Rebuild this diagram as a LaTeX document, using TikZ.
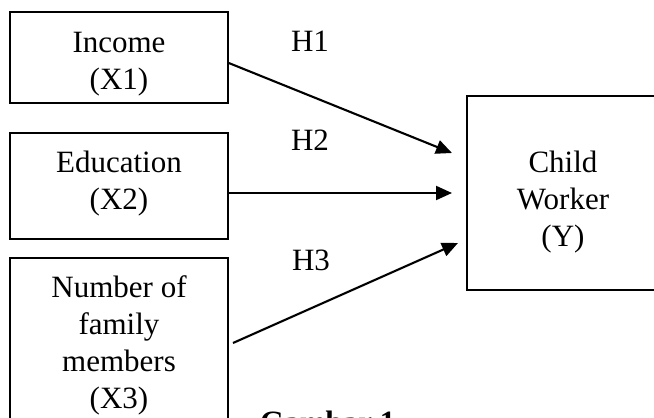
\documentclass[tikz,border=0pt]{standalone}
\usepackage{fontspec}
\setmainfont{Liberation Serif}
\usetikzlibrary{arrows.meta}
\begin{document}
\begin{tikzpicture}[x=1pt,y=-1pt,
  box/.style={draw,line width=1.6pt,rectangle,inner sep=0pt},
  txt/.style={inner sep=0pt,align=center,font=\fontsize{31}{37}\selectfont},
  hlab/.style={inner sep=0pt,font=\fontsize{31}{37}\selectfont},
  arr/.style={line width=2.1pt,-{Triangle[length=16pt,width=14pt]}}]
\useasboundingbox (0,0) rectangle (654,418);
\clip (0,0) rectangle (654,418);
% boxes
\node[box,minimum width=218pt,minimum height=91pt] (b1) at (119,57.5) {};
\node[box,minimum width=218pt,minimum height=106pt] (b2) at (119,186) {};
\node[box,minimum width=218pt,minimum height=182pt] (b3) at (119,349) {};
\node[box,minimum width=192pt,minimum height=194pt] (by) at (563,193) {};
% texts
\node[txt] (t1) at (119,64) {Income\\(X1)};
\node[txt] (t2) at (119,184) {Education\\(X2)};
\node[txt] (t3) at (119,345) {Number of\\family\\members\\(X3)};
\node[txt] (ty) at (563,202) {Child\\Worker\\(Y)};
% hypothesis labels
\node[hlab] (h1) at (310,41) {H1};
\node[hlab] (h2) at (310,140) {H2};
\node[hlab] (h3) at (311,260) {H3};
% arrows
\coordinate (e1) at (452,153);
\coordinate (e2) at (452,193);
\coordinate (e3) at (458,243);
\coordinate (s3) at (233,343);
\draw[arr] ([yshift=-5.5pt]b1.east) -- (e1);
\draw[arr] ([yshift=-7pt]b2.east) -- (e2);
\draw[arr] (s3) -- (e3);
% caption (cut off at the bottom, as in the reference)
\node[inner sep=0pt,anchor=base west,font=\fontsize{31}{37}\selectfont\bfseries] (cap) at (260,432) {Gambar 1};
\end{tikzpicture}
\end{document}
